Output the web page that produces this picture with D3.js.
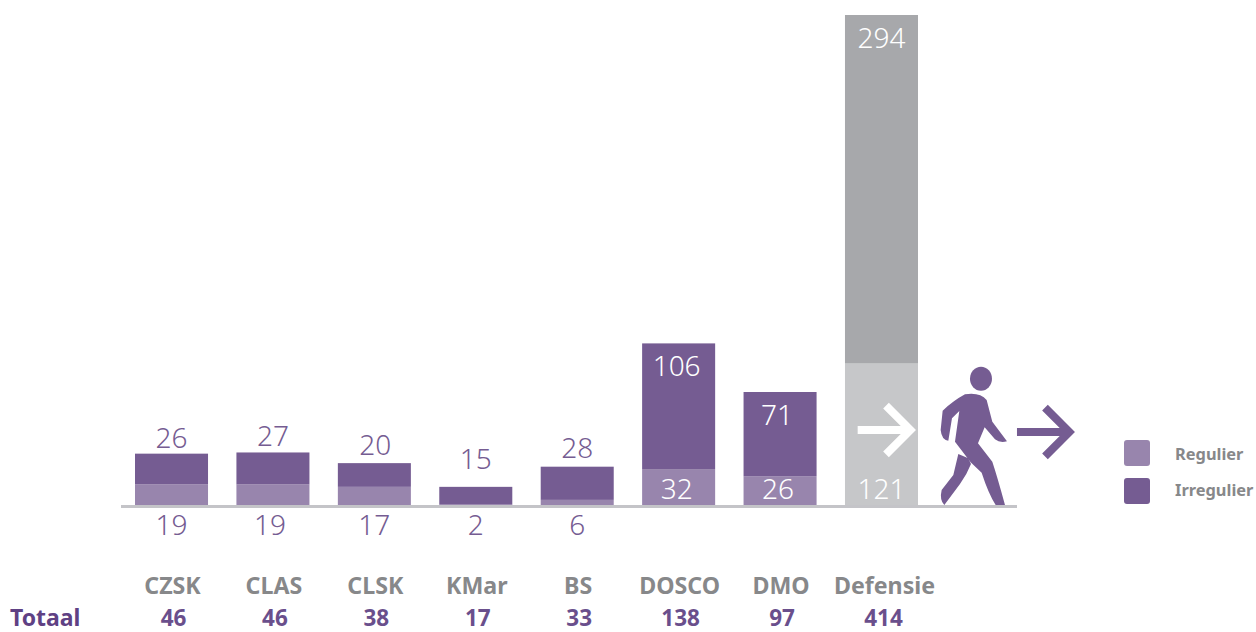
<!DOCTYPE html>
<html><head><meta charset="utf-8">
<script src="https://cdn.jsdelivr.net/npm/d3@7/dist/d3.min.js"></script>
<style>html,body{margin:0;padding:0;background:#fff;overflow:hidden}svg{display:block}text{font-family:"Noto Sans",sans-serif}</style>
</head><body><svg id="c" width="1256" height="632"></svg>
<script>
const categories=["CZSK","CLAS","CLSK","KMar","BS","DOSCO","DMO","Defensie"];
const regulier=[19,19,17,2,6,32,26,121];
const irregulier=[26,27,20,15,28,106,71,294];
const totaal=[46,46,38,17,33,138,97,414];
const legendLabels=["Regulier","Irregulier"];
const totalLabel="Totaal";
const dark="#755c92",light="#9885ad",grey="#a7a8ab",lgrey="#c6c7c9",axisC="#c4c4c8",tgrey="#87888a",tpurple="#6a4f8c";

const svg=d3.select("#c");
const x=d3.scaleBand().domain(categories).range([135,918]).paddingInner(0.28);
const y=d3.scaleLinear().domain([0,415]).range([507,15]);
const rows=categories.map((c,i)=>({c,r:regulier[i],ir:irregulier[i],t:totaal[i],sum:regulier[i]+irregulier[i],isD:c==="Defensie"}));

svg.append("g").selectAll("rect").data(rows).join("rect")
 .attr("x",d=>x(d.c)).attr("width",x.bandwidth())
 .attr("y",d=>y(d.r)).attr("height",d=>y(0)-y(d.r))
 .attr("fill",d=>d.isD?lgrey:light);
svg.append("g").selectAll("rect").data(rows).join("rect")
 .attr("x",d=>x(d.c)).attr("width",x.bandwidth())
 .attr("y",d=>y(d.sum)).attr("height",d=>y(d.r)-y(d.sum))
 .attr("fill",d=>d.isD?grey:dark);

svg.append("line").attr("x1",121).attr("x2",1017).attr("y1",506.5).attr("y2",506.5).attr("stroke",axisC).attr("stroke-width",3);

const cx=d=>x(d.c)+x.bandwidth()/2;
const big=d=>d.ir>50;
// small hand nudges so each number label sits where the reference has it
const topLift={CLSK:2,KMar:12,BS:3};
const topDx={CLSK:1,DOSCO:-2,DMO:-3};
const lowDx={CLAS:-3,DOSCO:-2,DMO:-2};
svg.append("g").selectAll("text").data(rows).join("text")
 .attr("x",d=>cx(d)+(topDx[d.c]||0)).attr("text-anchor","middle").attr("font-size",28).attr("font-weight",300)
 .attr("y",d=>big(d)?y(d.sum)+33:y(d.sum)-6-(topLift[d.c]||0))
 .attr("fill",d=>big(d)?"#fff":dark).text(d=>d.ir);
svg.append("g").selectAll("text").data(rows).join("text")
 .attr("x",d=>cx(d)+(lowDx[d.c]||0)).attr("text-anchor","middle").attr("font-size",28).attr("font-weight",300)
 .attr("y",d=>big(d)?y(0)-8:535)
 .attr("fill",d=>big(d)?"#fff":dark).text(d=>d.r);

svg.append("g").selectAll("text").data(rows).join("text")
 .attr("x",d=>cx(d)+1+(d.isD?2:0)).attr("y",594).attr("text-anchor","middle").attr("font-size",23.2).attr("font-weight",700)
 .attr("fill",tgrey).text(d=>d.c);
svg.append("g").selectAll("text").data(rows).join("text")
 .attr("x",d=>cx(d)+2).attr("y",626).attr("text-anchor","middle").attr("font-size",22.5).attr("font-weight",700)
 .attr("fill",tpurple).text(d=>d.t);
svg.append("text").attr("x",10).attr("y",626).attr("font-size",23).attr("font-weight",700).attr("fill","#5f4184").text(totalLabel);

// legend
const lg=svg.append("g").selectAll("g").data(legendLabels).join("g").attr("transform",(d,i)=>`translate(1124,${440+i*38})`);
lg.append("rect").attr("width",26).attr("height",26).attr("rx",3).attr("fill",(d,i)=>i?dark:light);
lg.append("text").attr("x",51).attr("y",(d,i)=>i?18:20).attr("font-size",16.4).attr("font-weight",700).attr("fill",tgrey).text(d=>d);

// icon drawn in zoomed reference units
const icon=svg.append("g").attr("transform","translate(820,350) scale(0.3333)");
icon.append("ellipse").attr("cx",483).attr("cy",86).attr("rx",33).attr("ry",36).attr("fill",dark);
icon.append("path").attr("fill",dark).attr("d","M435,133 Q480,126 500,150 L517,215 L561,274 Q540,280 525,268 L494,232 L474,280 L517,335 Q532,380 555,465 L527,465 Q505,430 485,368 L452,337 L405,275 L418,183 L396,205 L385,272 Q365,270 362,240 L368,182 Q400,152 435,133Z");
icon.append("path").attr("fill",dark).attr("d","M415,312 L445,325 L453,342 Q440,375 420,402 L373,465 Q358,450 365,420 L400,375Z");
const arrow=(g,x0,x1,yy,color)=>{
  g.append("path").attr("fill","none").attr("stroke",color).attr("stroke-width",24)
   .attr("d",`M${x0},${yy}H${x1-12}M${x1-85},${yy-73}L${x1-12},${yy}L${x1-85},${yy+73}`);
};
arrow(icon,113,283,240,"#fff");
arrow(icon,591,760,246,dark);
</script></body></html>
